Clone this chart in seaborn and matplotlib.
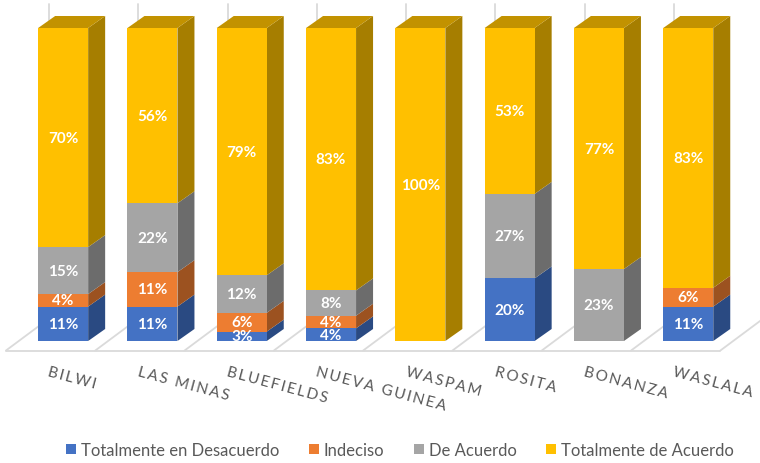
import matplotlib
matplotlib.use('Agg')
import matplotlib.pyplot as plt
from matplotlib.patches import Polygon, Rectangle
from matplotlib.transforms import ScaledTranslation
import pandas as pd
import seaborn as sns

# Datos
ciudades = ['BILWI', 'LAS MINAS', 'BLUEFIELDS', 'NUEVA GUINEA', 'WASPAM', 'ROSITA', 'BONANZA', 'WASLALA']
series = ['Totalmente en Desacuerdo', 'Indeciso', 'De Acuerdo', 'Totalmente de Acuerdo']
desacuerdo = [11, 11, 3, 4, 0, 20, 0, 11]
indeciso = [4, 11, 6, 4, 0, 0, 0, 6]
de_acuerdo = [15, 22, 12, 8, 0, 27, 23, 0]
tot_acuerdo = [70, 56, 79, 83, 100, 53, 77, 83]

valores = [desacuerdo, indeciso, de_acuerdo, tot_acuerdo]
colores = ['#4472C4', '#ED7D31', '#A5A5A5', '#FFC000']
laterales = ['#2A4A82', '#9C5220', '#6C6C6C', '#A67E00']
color_techo = '#C29200'

W, H = 760, 464
sns.set_theme(style='white')
plt.rcParams['font.family'] = ['Lato', 'DejaVu Sans']

fig = plt.figure(figsize=(W / 100, H / 100), dpi=100)
# ejes: la base de las barras en y=342 px y el tope en y=29 px
ax = fig.add_axes([18.5 / W, (H - 342) / H, 714.4 / W, 313 / H])

totales = [sum(v) for v in zip(*valores)]
base = [0] * len(ciudades)
for nombre, vals, color in zip(series, valores, colores):
    df = pd.DataFrame({'ciudad': ciudades, 'pct': [v / t * 100 for v, t in zip(vals, totales)]})
    sns.barplot(data=df, x='ciudad', y='pct', order=ciudades, bottom=base, color=color,
                saturation=1, width=0.56, label=nombre, ax=ax, zorder=3, edgecolor='none', linewidth=0)
    base = [b + p for b, p in zip(base, df['pct'])]

ax.set_xlim(-0.5, 7.5)
ax.set_ylim(0, 100)
ax.set_xlabel('')
ax.set_ylabel('')
ax.set_yticks([])
sns.despine(ax=ax, left=True, bottom=True)

# profundidad de las barras y del piso, en unidades de datos
px_x = 8 / 714.4
px_y = 100 / 313
prof_x, prof_y = 17 * px_x, 12 * px_y
piso_x, piso_y = 43 * px_x, 32 * px_y
frente_y = -9.5 * px_y
ini_x = -0.5 - 12.5 * px_x

# piso y paredes
gris = '#DADADA'
ax.plot([ini_x, ini_x + 8], [frente_y, frente_y], color=gris, lw=1.3, clip_on=False, zorder=1)
for i in range(9):
    x0 = ini_x + i
    ax.plot([x0, x0 + piso_x], [frente_y, frente_y + piso_y], color=gris, lw=1.3, clip_on=False, zorder=1)
    if i < 8:
        ax.plot([x0 + piso_x] * 2, [frente_y + piso_y, 100 + 24 * px_y], color=gris, lw=1.3,
                clip_on=False, zorder=1)

# caras laterales, techos y etiquetas a partir de las barras
for c, (cont, vals) in enumerate(zip(ax.containers, valores)):
    for barra, v in zip(cont, vals):
        if v == 0:
            continue
        x1 = barra.get_x() + barra.get_width()
        y0 = barra.get_y()
        y1 = y0 + barra.get_height()
        ax.add_patch(Polygon([(x1, y0), (x1 + prof_x, y0 + prof_y), (x1 + prof_x, y1 + prof_y), (x1, y1)],
                             closed=True, fc=laterales[c], ec='none', clip_on=False, zorder=2))
        if y1 > 99.9:
            x0 = barra.get_x()
            ax.add_patch(Polygon([(x0, y1), (x0 + prof_x, y1 + prof_y), (x1 + prof_x, y1 + prof_y), (x1, y1)],
                                 closed=True, fc=color_techo, ec='none', clip_on=False, zorder=2))
        t = ax.text(barra.get_x() + barra.get_width() / 2, (y0 + y1) / 2, f'{v}%', color='white',
                    fontsize=11, fontweight='bold', ha='center', va='center', zorder=4)
        # el 3% no cabe y se corta en la base
        t.set_clip_path(Rectangle((-1, 0), 10, 120, transform=ax.transData))
        t.set_clip_on(True)

# etiquetas del eje, inclinadas y con letras separadas
ax.set_xticks(range(len(ciudades)))
ax.set_xticklabels(['\u2009'.join(c) for c in ciudades])
ax.tick_params(axis='x', length=0, pad=17)
desplaza = ScaledTranslation(-13 / 100, 0, fig.dpi_scale_trans)
for etq in ax.get_xticklabels():
    etq.set(rotation=-15, rotation_mode='anchor', ha='left', va='top', color='#595959', fontsize=11)
    etq.set_transform(etq.get_transform() + desplaza)

ax.legend(loc='center', bbox_to_anchor=(400 / W, (H - 451) / H), bbox_transform=fig.transFigure,
          ncol=4, frameon=False, fontsize=12, labelcolor='#595959', handlelength=0.6,
          handleheight=0.6, handletextpad=0.3, columnspacing=1.75, borderpad=0, borderaxespad=0)

plt.savefig('out.png', dpi=100)
